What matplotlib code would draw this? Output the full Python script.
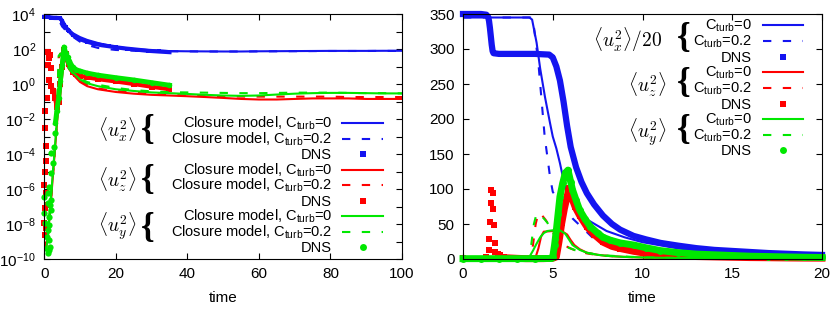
import numpy as np
import matplotlib
matplotlib.use('Agg')
import matplotlib.pyplot as plt
from matplotlib.lines import Line2D
from matplotlib.ticker import FixedLocator, FuncFormatter, NullLocator

plt.rcParams['font.family'] = ['Liberation Sans', 'DejaVu Sans']
plt.rcParams['font.size'] = 11
plt.rcParams['mathtext.fontset'] = 'custom'
plt.rcParams['mathtext.rm'] = 'Liberation Sans'
plt.rcParams['mathtext.it'] = 'Liberation Sans:italic'
plt.rcParams['mathtext.bf'] = 'Liberation Sans:bold'

BLUE, RED, GREEN = '#1414f0', '#ff0000', '#00e800'

# ---------------- left panel (log scale, t = 0..100) ----------------
t_model_L = [0, 0.5, 1, 1.5, 2, 2.5, 3, 3.5, 4, 4.5, 5, 5.5, 6, 6.5, 7, 8, 10, 12, 15, 20,
             25, 30, 35, 40, 45, 50, 55, 60, 65, 70, 75, 80, 85, 90, 95, 100]
ux_c0_L = [6900, 6900, 6900, 6900, 6900, 6900, 6900, 6900, 6300, 4800, 3500, 2500, 1700, 1350,
           1100, 800, 480, 330, 220, 130, 100, 85, 76, 74, 73, 72, 72, 74, 75, 76, 77, 78, 78, 78, 79, 79]
ux_c02_L = [6900, 6900, 6900, 6900, 6900, 6900, 6900, 6900, 5600, 3000, 1900, 1500, 1100, 900,
            750, 500, 260, 170, 115, 88, 80, 76, 74, 73, 72, 72, 72, 73, 74, 75, 76, 77, 77, 77, 78, 78]
uz_c0_L = [1e-9, 4e-10, 2e-9, 3e-8, 5e-7, 1e-5, 2e-4, 4e-3, 0.08, 2, 25, 38, 22, 12, 7, 3.5, 1.3,
           0.75, 0.5, 0.35, 0.28, 0.24, 0.22, 0.2, 0.18, 0.16, 0.14, 0.13, 0.13, 0.14, 0.15, 0.15,
           0.15, 0.14, 0.14, 0.14]
uz_c02_L = [1e-9, 4e-10, 2e-9, 3e-8, 5e-7, 1e-5, 2e-4, 5e-3, 30, 55, 38, 20, 15, 10, 7, 3.8, 1.4,
            0.9, 0.55, 0.4, 0.32, 0.27, 0.24, 0.22, 0.21, 0.2, 0.19, 0.19, 0.19, 0.19, 0.19, 0.19,
            0.18, 0.18, 0.18, 0.18]
uy_c0_L = [5e-10, 3e-10, 2e-9, 4e-8, 8e-7, 1.5e-5, 3e-4, 6e-3, 0.15, 4, 30, 40, 25, 14, 9, 4.5, 1.8,
           1.1, 0.75, 0.5, 0.4, 0.33, 0.3, 0.27, 0.24, 0.22, 0.21, 0.22, 0.25, 0.28, 0.3, 0.31,
           0.31, 0.3, 0.29, 0.29]
uy_c02_L = [5e-10, 3e-10, 2e-9, 4e-8, 8e-7, 1.5e-5, 3e-4, 8e-3, 40, 55, 35, 20, 14, 10, 7, 4, 2,
            1.3, 0.9, 0.6, 0.45, 0.38, 0.34, 0.33, 0.32, 0.31, 0.3, 0.3, 0.31, 0.32, 0.32, 0.32,
            0.31, 0.3, 0.3, 0.29]

t_ux_dns_L = [0, 1, 2, 3, 4, 4.5, 5, 5.5, 6, 6.5, 7, 8, 9, 10, 12, 14, 16, 18, 20, 23, 26, 29, 32, 35]
ux_dns_L = [6900, 6900, 6000, 5900, 5900, 5600, 4000, 2500, 1800, 1300, 1050, 630, 460, 360, 260,
            200, 165, 145, 125, 105, 91, 79, 72, 66]

# early, scattered DNS points
t_uz_early_L = [0.0, 0.3, 0.1, 0.5, 0.0, 0.4, 0.8, 0.2, 0.6, 0.5, 0.3, 0.2, 0.7, 1.2, 1.9, 1.1,
                1.8, 1.1, 1.6, 1.3]
uz_early_L = [1.2e-8, 2.5e-9, 8e-8, 6e-9, 1.6e-6, 6e-7, 1.3e-7, 1e-5, 4e-5, 3e-4, 3e-3, 3e-2,
              0.16, 1.6, 0.8, 12, 8, 70, 45, 30]
t_uy_early_L = [1.1, 1.6, 1.4, 0.7, 1.1, 1.4, 0.2, 1.4, 1.2, 0.0, 1.8, 0.9, 1.6, 0.0, 2.0, 1.1,
                1.2, 1.8, 2.4, 2.0, 2.7, 2.9]
uy_early_L = [2.2e-10, 5e-10, 3.2e-10, 1.9e-9, 4.6e-9, 1.3e-9, 1.1e-8, 8.7e-9, 2.6e-8, 4e-8,
              6.3e-8, 1.6e-7, 1.3e-7, 3.6e-7, 2.3e-7, 5.9e-7, 1.3e-6, 8e-6, 3e-5, 1.1e-4, 2.6e-4,
              1.5e-3]

t_uz_dns_L = [2.0, 2.5, 3.0, 3.5, 4.0, 4.5, 5.0, 5.5, 6.0, 6.5, 7.0, 8, 9, 10, 12, 15, 20, 25, 30, 35]
uz_dns_L = [0.8, 0.4, 0.15, 0.05, 0.1, 1.0, 10, 90, 50, 28, 14, 5, 3.5, 3, 2.4, 1.9, 1.4, 1.0, 0.7, 0.5]
t_uy_dns_L = [3.1, 3.5, 4.0, 4.5, 5.0, 5.25, 5.5, 6.0, 6.5, 7.0, 8, 9, 10, 12, 15, 20, 25, 30, 35]
uy_dns_L = [0.006, 0.03, 0.15, 1.5, 12, 40, 130, 60, 35, 20, 9, 6.5, 5.5, 4.2, 3.2, 2.3, 1.7, 1.2, 0.85]

# ---------------- right panel (linear, t = 0..20) ----------------
t_ux_c0_R = [0, 3.7, 3.85, 4.1, 4.3, 4.57, 4.85, 5.0, 5.2, 5.4, 5.6, 5.85, 6.35, 7.0, 8.0, 9.0,
             10, 12, 14, 16, 18, 20]
ux20_c0_R = [345, 345, 342, 309, 272, 231, 194, 175, 158, 137, 113, 89, 70, 55, 40, 31, 24, 15,
             10, 7.5, 5.5, 4.5]
t_ux_c02_R = [0, 3.75, 3.9, 4.2, 4.55, 4.85, 5.0, 5.5, 6.1, 6.8, 7.2, 8, 9, 10, 12, 15, 20]
ux20_c02_R = [345, 345, 342, 280, 175, 117, 96, 77, 58, 41, 31, 22, 16, 12, 8, 5.5, 4.2]
t_ux_dns_R = [0, 0.5, 1.0, 1.3, 1.4, 1.45, 1.5, 1.55, 1.6, 1.65, 1.7, 2.0, 3.0, 4.0, 4.8, 5.0,
              5.2, 5.4, 5.6, 5.8, 6.0, 6.3, 6.6, 6.9, 7.3, 7.8, 8.3, 8.75, 9.5, 10.2, 11, 12, 13,
              14, 15, 16, 17, 18, 19, 20]
ux20_dns_R = [350, 350, 350, 349, 346, 340, 330, 318, 306, 297, 294, 293, 293, 293, 292, 288,
              275, 255, 225, 190, 160, 131, 110, 94, 78, 62, 50, 42, 33, 28, 23, 19, 15.5, 13,
              11.5, 10, 8.5, 7.5, 6.5, 5.8]

t_uz_c0_R = [0, 3.9, 4.05, 4.2, 4.35, 4.5, 5.0, 5.5, 5.8, 6.0, 6.2, 6.5, 6.9, 7.5, 8, 9, 10, 12, 15, 20]
uz_c0_R = [0, 0, 3, 15, 32, 39, 40, 40, 35, 27, 20, 14, 9, 6, 4.5, 3, 2.2, 1.3, 0.8, 0.5]
t_uz_c02_R = [0, 3.7, 3.9, 4.05, 4.2, 4.35, 4.6, 4.8, 5.0, 5.3, 5.6, 6.0, 6.4, 6.9, 7.4, 8, 9,
              10, 12, 15, 20]
uz_c02_R = [0, 0, 20, 50, 66, 64, 56, 48, 38, 28, 20, 15, 11, 8, 6, 4.5, 3, 2.2, 1.4, 0.9, 0.6]
t_uz_spike_R = [0.0, 1.3, 1.45, 1.47, 1.5, 1.56, 1.56, 1.65, 1.65, 1.74, 1.78, 1.78, 1.93, 2.06, 2.3]
uz_spike_R = [1, 3, 13, 28, 53, 80, 99, 95, 71, 49, 23, 10, 7, 6, 3]
t_uz_dns_R = [2.6, 3.0, 3.5, 4.0, 4.5, 5.0, 5.2, 5.35, 5.5, 5.65, 5.8, 5.9, 6.05, 6.25, 6.5, 6.9,
              7.3, 7.8, 8.3, 8.75, 9.5, 10.2, 11, 12, 13, 14, 15, 16, 17, 18, 19, 20]
uz_dns_R = [1.5, 1, 0.5, 0.5, 0.5, 1, 3, 25, 51, 72, 89, 101, 88, 74, 62, 46, 35, 24, 18, 15, 11,
            8, 6, 4.5, 3.5, 3, 2.5, 2, 1.8, 1.5, 1.3, 1.2]

t_uy_c0_R = [0, 3.5, 3.7, 3.9, 4.1, 4.3, 4.5, 4.7, 5.0, 5.4, 5.7, 5.9, 6.1, 6.5, 6.9, 7.5, 8, 9,
             10, 12, 15, 20]
uy_c0_R = [0, 0, 3, 12, 22, 31, 37, 40, 41, 41, 36, 28, 20, 13, 9, 6, 4.5, 3, 2.2, 1.4, 0.9, 0.6]
t_uy_c02_R = [0, 3.6, 3.8, 3.95, 4.1, 4.25, 4.5, 4.7, 4.9, 5.2, 5.5, 5.9, 6.3, 6.8, 7.3, 8, 9,
              10, 12, 15, 20]
uy_c02_R = [0, 0, 20, 50, 65, 64, 58, 52, 40, 30, 22, 16, 12, 9, 7, 5, 3.5, 2.5, 1.6, 1.0, 0.7]
t_uy_dns_R = [0, 1, 2, 3, 4, 4.9, 5.0, 5.1, 5.2, 5.3, 5.4, 5.55, 5.7, 5.85, 6.0, 6.1, 6.3, 6.5,
              6.8, 7.1, 7.5, 7.8, 8.2, 8.75, 9.5, 10.2, 11, 12, 13, 14, 15, 16, 17, 18, 19, 20]
uy_dns_R = [0.5, 0.5, 0.5, 0.5, 0.5, 0.8, 3, 20, 41, 65, 89, 108, 123, 127, 110, 99, 84, 70, 57,
            46, 37, 31, 27, 23, 20, 16, 12, 9, 7, 6, 5, 4, 3.5, 3, 2.5, 2.2]

# ---------------- figure ----------------
W, H = 831, 310
fig = plt.figure(figsize=(W / 100, H / 100), dpi=100)


def fx(x):
    return x / W


def fy(y):
    return 1 - y / H


DASH = (0, (4, 5.5))
LW = 1.5

ax1 = fig.add_axes([fx(44.3), fy(259), (402 - 44.3) / W, 245 / H])
ax2 = fig.add_axes([fx(463), fy(259), (822 - 463) / W, 245 / H])


def band(ax, t, v, color, marker, ms, lw):
    ax.plot(t, v, color=color, lw=lw, clip_on=False)
    ax.plot(t, v, ls='none', marker=marker, ms=ms, color=color, mew=0, clip_on=False)


# left
ax1.set_yscale('log')
ax1.plot(t_model_L, ux_c0_L, color=BLUE, lw=LW)
ax1.plot(t_model_L, ux_c02_L, color=BLUE, lw=LW, ls=DASH)
band(ax1, t_ux_dns_L, ux_dns_L, BLUE, 's', 3, 3)
ax1.plot(t_model_L, uz_c0_L, color=RED, lw=LW)
ax1.plot(t_model_L, uz_c02_L, color=RED, lw=LW, ls=DASH)
ax1.plot(t_uz_early_L, uz_early_L, ls='none', marker='s', ms=4.5, color=RED, mew=0, clip_on=False)
band(ax1, t_uz_dns_L, uz_dns_L, RED, 's', 4, 3)
ax1.plot(t_model_L, uy_c0_L, color=GREEN, lw=LW)
ax1.plot(t_model_L, uy_c02_L, color=GREEN, lw=LW, ls=DASH)
ax1.plot(t_uy_early_L, uy_early_L, ls='none', marker='o', ms=4.5, color=GREEN, mew=0, clip_on=False)
band(ax1, t_uy_dns_L, uy_dns_L, GREEN, 'o', 4, 3.5)

ax1.set_xlim(0, 100)
ax1.set_ylim(1e-10, 1e4)
ax1.yaxis.set_major_locator(FixedLocator(10.0 ** np.arange(-10, 5)))
ax1.yaxis.set_minor_locator(NullLocator())
ax1.yaxis.set_major_formatter(FuncFormatter(
    lambda v, p: r'$10^{%d}$' % round(np.log10(v)) if round(np.log10(v)) % 2 == 0 else ''))
ax1.set_xticks([0, 20, 40, 60, 80, 100])

# right
ax2.plot(t_ux_c0_R, ux20_c0_R, color=BLUE, lw=LW)
ax2.plot(t_ux_c02_R, ux20_c02_R, color=BLUE, lw=LW, ls=DASH)
band(ax2, t_ux_dns_R, ux20_dns_R, BLUE, 's', 3.5, 4.5)
ax2.plot(t_uz_c0_R, uz_c0_R, color=RED, lw=LW)
ax2.plot(t_uz_c02_R, uz_c02_R, color=RED, lw=LW, ls=DASH)
ax2.plot(t_uz_spike_R, uz_spike_R, ls='none', marker='s', ms=5, color=RED, mew=0, clip_on=False)
band(ax2, t_uz_dns_R, uz_dns_R, RED, 's', 5, 5)
ax2.plot(t_uy_c0_R, uy_c0_R, color=GREEN, lw=LW)
ax2.plot(t_uy_c02_R, uy_c02_R, color=GREEN, lw=LW, ls=DASH)
band(ax2, t_uy_dns_R, uy_dns_R, GREEN, 'o', 5, 5)

ax2.set_xlim(0, 20)
ax2.set_ylim(0, 350)
ax2.set_xticks([0, 5, 10, 15, 20])
ax2.set_yticks(range(0, 351, 50))

for ax in (ax1, ax2):
    ax.tick_params(which='both', direction='in', top=True, right=True, length=4,
                   width=0.8, pad=6, labelsize=11)
    for s in ax.spines.values():
        s.set_linewidth(0.8)
    ax.set_xlabel('time', fontsize=11)
    ax.xaxis.set_label_coords(0.5, -0.13)


# legends drawn by hand (label, brace, entries)
def entry(xr, x0, x1, y, text, color, ls=None, marker=None, ms=5):
    fig.text(fx(xr), fy(y + 5), text, ha='right', va='baseline', fontsize=10.5)
    if marker is None:
        fig.add_artist(Line2D([fx(x0), fx(x1)], [fy(y), fy(y)], transform=fig.transFigure,
                              color=color, lw=LW, ls=ls))
    else:
        fig.add_artist(Line2D([fx((x0 + x1) / 2)], [fy(y)], transform=fig.transFigure,
                              color=color, ls='none', marker=marker, ms=ms, mew=0))


def group_label(x, y, text):
    fig.text(fx(x), fy(y), text, ha='center', va='center', fontsize=14, math_fontfamily='cm')


def brace(x, y):
    fig.text(fx(x), fy(y), '{', ha='center', va='center', fontsize=25,
             family='Liberation Serif', weight='bold')


cm0 = r'Closure model, C$_{\mathrm{turb}}$=0'
cm2 = r'Closure model, C$_{\mathrm{turb}}$=0.2'
left_rows = [123, 138.5, 154, 169.5, 185, 200.5, 216, 231.5, 247]
colors = [BLUE, RED, GREEN]
markers = [('s', 4), ('s', 5), ('o', 5)]
for i, c in enumerate(colors):
    r = left_rows[3 * i:3 * i + 3]
    entry(332, 342, 383, r[0], cm0, c, ls='-')
    entry(332, 342, 383, r[1], cm2, c, ls=DASH)
    entry(332, 342, 383, r[2], 'DNS', c, marker=markers[i][0], ms=markers[i][1])
group_label(117, 130, r'$\langle u_x^2\rangle$')
group_label(117, 180, r'$\langle u_z^2\rangle$')
group_label(117, 226, r'$\langle u_y^2\rangle$')
for yb in (131, 181, 228):
    brace(148, yb)

c0 = r'C$_{\mathrm{turb}}$=0'
c2 = r'C$_{\mathrm{turb}}$=0.2'
right_rows = [25, 41, 57, 72, 88, 104, 119, 135, 150]
for i, c in enumerate(colors):
    r = right_rows[3 * i:3 * i + 3]
    entry(752, 763, 803, r[0], c0, c, ls='-')
    entry(752, 763, 803, r[1], c2, c, ls=DASH)
    entry(752, 763, 803, r[2], 'DNS', c, marker=markers[i][0], ms=markers[i][1])
group_label(628, 40, r'$\langle u_x^2\rangle/20$')
group_label(647, 85, r'$\langle u_z^2\rangle$')
group_label(647, 132, r'$\langle u_y^2\rangle$')
for yb in (38, 83, 130):
    brace(684, yb)

fig.savefig('out.png', dpi=100)
